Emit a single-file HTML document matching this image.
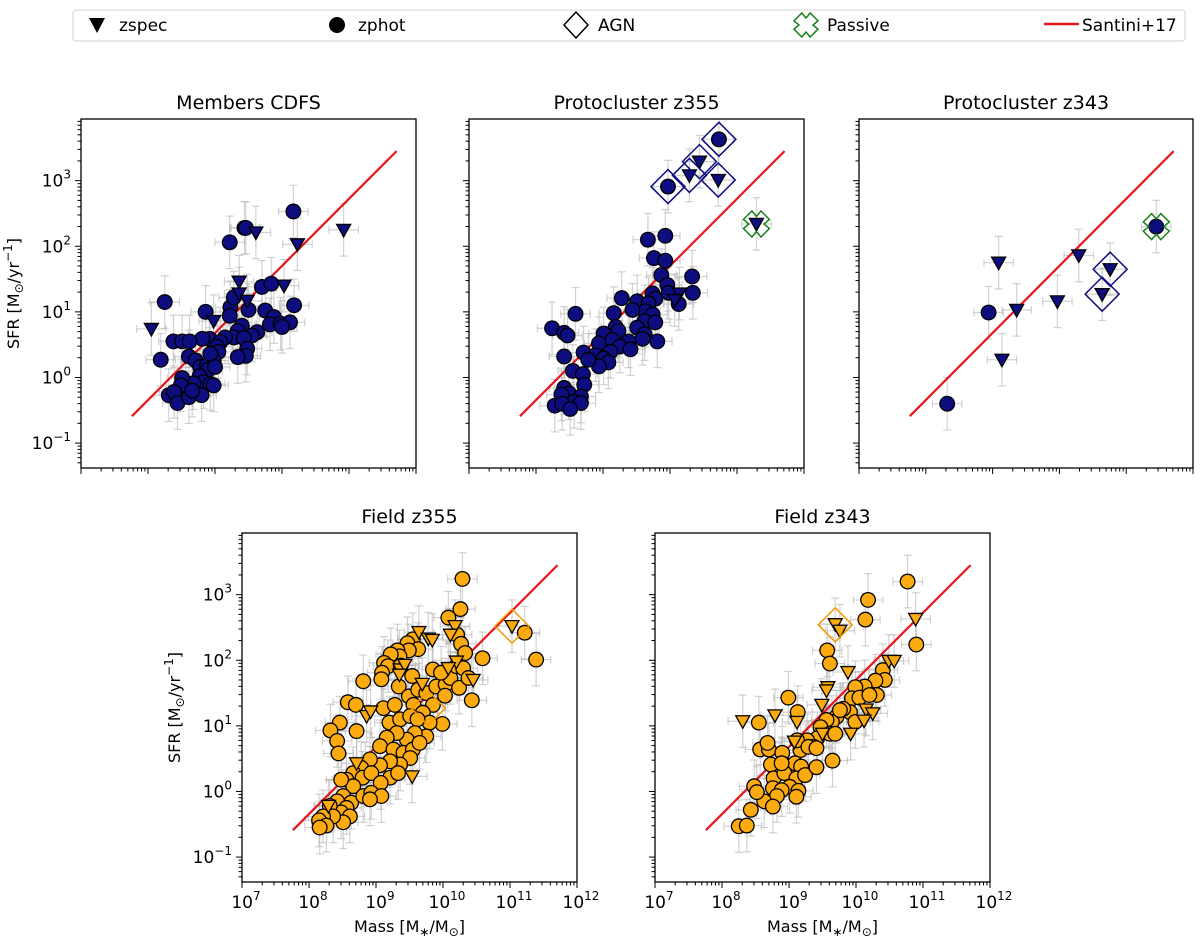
<!DOCTYPE html>
<html><head><meta charset="utf-8">
<style>
html,body{margin:0;padding:0;background:#fff;}
svg{display:block;font-family:"DejaVu Sans","Liberation Sans",sans-serif;}
</style></head>
<body>
<svg id="fig" xmlns="http://www.w3.org/2000/svg" width="1200" height="936" viewBox="0 0 1200 936">
  <g id="legend">
    <rect x="73" y="10" width="1112" height="31" rx="3" fill="#fff" stroke="#d0d0d0" stroke-width="1"/>
    <g>
      <path d="M89,18 L105,18 L97,33 Z" fill="#000"/>
      <text x="119" y="31" font-size="17">zspec</text>
    </g>
    <g>
      <circle cx="337" cy="25" r="8" fill="#000"/>
      <text x="358" y="31" font-size="17">zphot</text>
    </g>
    <g>
      <path d="M576,12 L588,25 L576,38 L564,25 Z" fill="none" stroke="#000" stroke-width="1.5"/>
      <text x="598" y="31" font-size="17">AGN</text>
    </g>
    <g>
      <path id="legX" fill="none" stroke="#1a7f1a" stroke-width="1.5"/>
      <text x="827" y="31" font-size="17">Passive</text>
    </g>
    <g>
      <line x1="1044" y1="24" x2="1079" y2="24" stroke="#e8141b" stroke-width="2.5"/>
      <text x="1082" y="31" font-size="17">Santini+17</text>
    </g>
  </g>
</svg>
<script>
// ---------- data (log10 Mass, log10 SFR) ----------
const cdfsCircM = [10.17,9.44,9.46,9.22,8.25,8.19,8.86,8.92,8.81,8.38,8.51,8.62,9.23,9.22,9.28,9.70,9.84,10.18,9.75,9.88,9.82,9.98,10.12,10.0,9.50,9.40,9.34,9.28,9.63,9.55,9.43,9.48,9.46,9.34,9.15,9.08,9.03,9.05,8.98,8.61,8.71,8.78,8.88,8.93,8.89,9.0,8.77,8.83,8.93,8.98,8.68,8.51,8.49,8.31,8.39,8.44,8.61,8.80,8.66];
const cdfsCircS = [2.53,2.28,2.28,2.06,1.15,0.27,1.0,0.59,0.59,0.55,0.55,0.55,1.07,0.94,1.22,1.38,1.43,1.10,1.02,0.92,0.81,0.82,0.84,0.77,1.03,0.79,0.71,0.61,0.69,0.64,0.60,0.44,0.33,0.31,0.61,0.54,0.47,0.39,0.26,0.32,0.26,0.16,0.18,0.36,0.11,0.16,0.02,-0.07,-0.10,-0.12,-0.09,-0.01,-0.12,-0.27,-0.22,-0.39,-0.30,-0.27,-0.20];
const cdfsTriM = [10.92,10.23,9.61,9.36,9.36,10.03,8.98,8.05,9.48];
const cdfsTriS = [2.25,2.03,2.21,1.46,1.28,1.40,0.86,0.74,1.17];

const z355CircM = [10.73,9.97,9.67,9.93,9.76,9.93,9.87,9.96,9.98,10.33,10.34,10.13,9.28,9.51,9.74,9.78,9.68,9.63,9.74,9.44,9.16,8.59,9.62,9.78,9.51,9.19,9.23,9.01,8.24,8.42,8.47,9.62,9.59,9.81,8.94,9.14,9.38,9.25,9.41,9.11,8.71,8.89,9.01,9.08,8.94,8.78,8.42,8.55,8.70,8.72,8.42,8.49,8.67,8.38,8.57,8.67,8.28,8.39,8.51];
const z355CircS = [3.63,2.91,2.10,2.16,1.82,1.78,1.56,1.41,1.29,1.54,1.29,1.12,1.21,1.16,1.28,1.20,1.13,1.01,0.96,1.03,0.98,0.97,0.86,0.84,0.76,0.77,0.71,0.67,0.75,0.68,0.64,0.66,0.59,0.55,0.52,0.57,0.55,0.47,0.43,0.39,0.38,0.34,0.29,0.23,0.17,0.27,0.32,0.10,0.05,-0.11,-0.16,-0.24,-0.29,-0.26,-0.37,-0.39,-0.43,-0.40,-0.48];
const z355TriM = [10.44,10.29,10.72,11.29,10.14,10.07];
const z355TriS = [3.29,3.08,3.01,2.34,1.28,1.18];
const z355AgnM = [10.73,10.44,10.29,9.97,10.72];
const z355AgnS = [3.63,3.29,3.08,2.91,3.01];
const z355PassM = [11.29];
const z355PassS = [2.34];

const z343CircM = [8.94,8.32,11.45];
const z343CircS = [0.99,-0.40,2.30];
const z343TriM = [9.09,9.36,9.14,9.97,10.29,10.76,10.64];
const z343TriS = [1.75,1.03,0.27,1.16,1.86,1.65,1.27];
const z343AgnM = [10.76,10.64];
const z343AgnS = [1.65,1.27];
const z343PassM = [11.45];
const z343PassS = [2.30];

const f355CircM = [10.29,10.26,10.08,10.21,10.27,10.33,10.59,11.39,11.22,9.55,9.47,9.63,9.49,9.32,9.35,9.22,9.12,9.18,9.37,9.09,9.08,9.34,9.54,8.81,8.58,8.70,8.46,8.32,8.42,8.44,8.71,9.11,9.28,9.49,9.63,9.56,9.75,9.90,10.04,10.11,10.20,10.30,10.24,10.38,10.43,9.99,10.03,9.85,9.70,9.80,9.20,9.36,9.51,9.62,9.75,9.58,9.46,9.31,9.16,9.06,9.26,9.41,9.55,9.65,9.51,9.36,9.21,9.06,8.91,8.78,8.66,8.56,8.80,8.93,9.21,9.33,9.07,8.66,8.51,8.63,8.81,8.93,9.08,8.91,8.42,8.56,8.48,8.61,8.51,8.31,8.36,8.21,8.15,8.26,8.16,8.48,9.85,9.97];
const f355CircS = [3.24,2.78,2.65,2.39,2.25,2.11,2.03,2.01,2.42,2.32,2.26,2.17,2.15,2.15,2.06,2.09,1.96,1.91,1.92,1.81,1.71,1.60,1.76,1.68,1.36,1.32,1.05,0.93,0.77,0.58,0.92,1.27,1.32,1.45,1.55,1.32,1.50,1.60,1.63,1.73,1.91,1.88,1.58,1.73,1.39,1.03,1.46,1.32,1.20,1.05,1.05,1.10,1.15,1.10,0.84,0.89,0.79,0.89,0.82,0.69,0.64,0.59,0.64,0.74,0.51,0.41,0.46,0.40,0.49,0.36,0.28,0.18,0.21,0.28,0.21,0.28,0.13,0.08,-0.07,-0.17,-0.07,-0.02,-0.07,-0.12,-0.15,-0.25,-0.32,-0.38,-0.47,-0.22,-0.38,-0.38,-0.44,-0.52,-0.55,0.18,1.86,1.81];
const f355TriM = [9.64,9.78,9.84,10.18,10.11,10.20,10.08,9.36,9.43,9.35,9.69,9.54,8.86,8.92,10.45,8.71,8.29,11.03];
const f355TriS = [2.43,2.33,2.31,2.52,2.39,1.98,1.88,1.86,1.93,1.78,1.64,0.23,1.15,1.22,1.70,0.43,-0.22,2.52];
const f355AgnM = [11.03,9.78];
const f355AgnS = [2.52,1.27];

const f343CircM = [10.77,10.18,10.14,10.90,9.57,9.61,8.99,10.40,10.43,10.29,10.31,10.13,9.99,9.94,10.05,10.20,9.91,9.99,9.81,9.71,9.64,9.56,9.47,9.61,9.69,9.42,9.27,9.37,9.17,9.12,9.13,8.55,8.57,8.70,8.68,8.90,8.93,9.09,9.18,8.73,8.77,8.93,9.11,9.24,9.01,9.14,9.11,8.76,8.89,8.82,8.63,8.76,8.48,8.52,8.43,8.25,8.37,9.41,9.65,9.29,9.76,9.41,8.89];
const f343CircS = [3.20,2.92,2.62,2.24,2.15,1.95,1.43,1.85,1.70,1.69,1.47,1.60,1.59,1.42,1.43,1.47,1.21,1.06,1.26,1.14,1.06,1.09,0.98,0.88,0.88,0.81,0.78,0.68,0.63,0.78,1.21,1.05,0.64,0.64,0.74,0.59,0.41,0.43,0.38,0.41,0.20,0.28,0.20,0.25,0.07,0.01,-0.08,0.05,0.02,-0.07,-0.15,-0.23,0.08,-0.01,-0.28,-0.53,-0.52,0.37,0.47,0.68,1.24,0.66,0.43];
const f343TriM = [10.89,10.49,10.57,9.88,9.58,9.56,9.49,8.79,9.12,8.31,10.15,10.25,10.12,9.92,9.50,9.08,9.69,9.76];
const f343TriS = [2.63,1.99,1.99,1.82,1.59,1.54,1.32,1.16,1.06,1.07,1.25,1.19,1.08,0.88,0.88,0.76,2.55,2.45];
const f343AgnM = [9.69];
const f343AgnS = [2.54];

const santiniM = [7.76, 11.71];
const santiniS = [-0.59, 3.45];

const xTickExp = [7,8,9,10,11,12];
const yTickExp = [-1,0,1,2,3];

// ---------- drawing ----------
const NS = "http://www.w3.org/2000/svg";
const svg = document.getElementById('fig');
const XMIN = 7, XMAX = 12, YMIN = -1.38, YMAX = 3.94;
const ERRX = 0.22, ERRY = 0.4;

function mk(tag, attrs, parent){
  const e = document.createElementNS(NS, tag);
  for (const k in attrs) e.setAttribute(k, attrs[k]);
  (parent || svg).appendChild(e);
  return e;
}
function xPath(cx, cy, s){
  const a = s*0.35, b = s;
  const pts = [[-a,-b],[0,-b+a*1.2],[a,-b],[b,-a],[b-a*1.2,0],[b,a],[a,b],[0,b-a*1.2],[-a,b],[-b,a],[-b+a*1.2,0],[-b,-a]];
  return 'M' + pts.map(p => (cx+p[0]).toFixed(1)+','+(cy+p[1]).toFixed(1)).join(' L') + ' Z';
}
document.getElementById('legX').setAttribute('d', xPath(806, 25, 12));

const panels = [
  {name:'members-cdfs', title:'Members CDFS', L:81, T:119, W:335, H:349, ylab:true, xlab:false,
   circ:[cdfsCircM,cdfsCircS], tri:[cdfsTriM,cdfsTriS], agn:null, pass:null, fill:'#0d0d80', agnCol:'#0d0d80'},
  {name:'protocluster-z355', title:'Protocluster z355', L:469, T:119, W:335, H:349, ylab:false, xlab:false,
   circ:[z355CircM,z355CircS], tri:[z355TriM,z355TriS], agn:[z355AgnM,z355AgnS], pass:[z355PassM,z355PassS], fill:'#0d0d80', agnCol:'#0d0d80'},
  {name:'protocluster-z343', title:'Protocluster z343', L:859, T:119, W:334, H:349, ylab:false, xlab:false,
   circ:[z343CircM,z343CircS], tri:[z343TriM,z343TriS], agn:[z343AgnM,z343AgnS], pass:[z343PassM,z343PassS], fill:'#0d0d80', agnCol:'#0d0d80'},
  {name:'field-z355', title:'Field z355', L:242, T:533, W:335, H:349, ylab:true, xlab:true,
   circ:[f355CircM,f355CircS], tri:[f355TriM,f355TriS], agn:[f355AgnM,f355AgnS], pass:null, fill:'#fbaa0f', agnCol:'#f59a00'},
  {name:'field-z343', title:'Field z343', L:655, T:533, W:335, H:349, ylab:false, xlab:true,
   circ:[f343CircM,f343CircS], tri:[f343TriM,f343TriS], agn:[f343AgnM,f343AgnS], pass:null, fill:'#fbaa0f', agnCol:'#f59a00'}
];

panels.forEach(p => {
  const xs = v => p.L + (v - XMIN) / (XMAX - XMIN) * p.W;
  const ys = v => p.T + (YMAX - v) / (YMAX - YMIN) * p.H;
  const g = mk('g', {});
  
  

  const title = mk('text', {x: p.L + p.W/2, y: p.T - 10, 'font-size': 19, 'text-anchor': 'middle'}, g);
  title.textContent = p.title;
  
  

  const clipId = 'clip-' + p.name;
  const cp = mk('clipPath', {id: clipId}, g);
  mk('rect', {x: p.L, y: p.T, width: p.W, height: p.H}, cp);
  const plot = mk('g', {'clip-path': 'url(#' + clipId + ')'}, g);

  // error bars
  const eg = mk('g', {stroke: '#b4b4b4', 'stroke-width': 1.2, 'stroke-opacity': 0.6}, plot);
  
  
  [p.circ, p.tri].forEach(set => {
    set[0].forEach((m, i) => {
      const s = set[1][i];
      const x0 = xs(m - ERRX), x1 = xs(m + ERRX), y0 = ys(s - ERRY), y1 = ys(s + ERRY), cx = xs(m), cy = ys(s);
      mk('line', {x1: x0, x2: x1, y1: cy, y2: cy}, eg);
      mk('line', {x1: cx, x2: cx, y1: y0, y2: y1}, eg);
      mk('line', {x1: cx - 4, x2: cx + 4, y1: y0, y2: y0}, eg);
      mk('line', {x1: cx - 4, x2: cx + 4, y1: y1, y2: y1}, eg);
      mk('line', {x1: x0, x2: x0, y1: cy - 4, y2: cy + 4}, eg);
      mk('line', {x1: x1, x2: x1, y1: cy - 4, y2: cy + 4}, eg);
    });
  });

  // santini line
  const ln = mk('line', {x1: xs(santiniM[0]), y1: ys(santiniS[0]), x2: xs(santiniM[1]), y2: ys(santiniS[1]), stroke: '#e8141b', 'stroke-width': 2.2}, plot);
  
  

  // circles
  p.circ[0].forEach((m, i) => {
    const c = mk('circle', {cx: xs(m), cy: ys(p.circ[1][i]), r: 7.3, fill: p.fill, stroke: '#000', 'stroke-width': 1.3}, plot);
    
    
  });
  // triangles
  p.tri[0].forEach((m, i) => {
    const cx = xs(m), cy = ys(p.tri[1][i]);
    const t = mk('path', {d: `M${cx-7},${cy-5.5} L${cx+7},${cy-5.5} L${cx},${cy+7} Z`, fill: p.fill, stroke: '#000', 'stroke-width': 1.3}, plot);
    
    
  });
  // AGN
  if (p.agn) p.agn[0].forEach((m, i) => {
    const cx = xs(m), cy = ys(p.agn[1][i]), r = 17;
    const d = mk('path', {d: `M${cx},${cy-r} L${cx+r},${cy} L${cx},${cy+r} L${cx-r},${cy} Z`, fill: 'none', stroke: p.agnCol, 'stroke-width': 1.5}, plot);
    
    
  });
  // passive
  if (p.pass) p.pass[0].forEach((m, i) => {
    const x = mk('path', {d: xPath(xs(m), ys(p.pass[1][i]), 13), fill: 'none', stroke: '#1a7f1a', 'stroke-width': 1.5}, plot);
    
    
  });

  // frame
  mk('rect', {x: p.L, y: p.T, width: p.W, height: p.H, fill: 'none', stroke: '#000', 'stroke-width': 1.3}, g);

  // ticks
  const tg = mk('g', {stroke: '#000', 'stroke-width': 1}, g);
  const B = p.T + p.H;
  for (let e = XMIN; e <= XMAX; e++) {
    mk('line', {x1: xs(e), x2: xs(e), y1: B, y2: B + 6}, tg);
    if (e < XMAX) for (let k = 2; k <= 9; k++) {
      const v = e + Math.log10(k);
      mk('line', {x1: xs(v), x2: xs(v), y1: B, y2: B + 3.5}, tg);
    }
  }
  for (let e = -2; e <= 4; e++) {
    if (e >= YMIN && e <= YMAX) mk('line', {x1: p.L - 6, x2: p.L, y1: ys(e), y2: ys(e)}, tg);
    for (let k = 2; k <= 9; k++) {
      const v = e + Math.log10(k);
      if (v >= YMIN && v <= YMAX) mk('line', {x1: p.L - 3.5, x2: p.L, y1: ys(v), y2: ys(v)}, tg);
    }
  }
  if (p.ylab) {
    yTickExp.forEach(e => {
      const t = mk('text', {x: p.L - 10, y: ys(e) + 6, 'font-size': 17, 'text-anchor': 'end'}, g);
      
      
      t.appendChild(document.createTextNode('10'));
      const sp = mk('tspan', {dy: -8, 'font-size': 12}, t);
      sp.textContent = e < 0 ? '\u2212' + (-e) : String(e);
    });
    const yl = mk('text', {x: 0, y: 0, 'font-size': 16, 'text-anchor': 'middle', transform: `translate(${p.L - 62},${p.T + p.H/2}) rotate(-90)`}, g);
    
    
    yl.appendChild(document.createTextNode('SFR [M'));
    const s1 = mk('tspan', {dy: 4, 'font-size': 12}, yl); s1.textContent = '\u2299';
    const s2 = mk('tspan', {dy: -4}, yl); s2.textContent = '/yr';
    const s3 = mk('tspan', {dy: -7, 'font-size': 12}, yl); s3.textContent = '\u22121';
    const s4 = mk('tspan', {dy: 7}, yl); s4.textContent = ']';
  }
  if (p.xlab) {
    xTickExp.forEach(e => {
      const t = mk('text', {x: xs(e) + 4, y: B + 26, 'font-size': 17, 'text-anchor': 'middle'}, g);
      
      
      t.appendChild(document.createTextNode('10'));
      const sp = mk('tspan', {dy: -8, 'font-size': 12}, t);
      sp.textContent = String(e);
    });
    const xl = mk('text', {x: p.L + p.W/2, y: B + 50, 'font-size': 16, 'text-anchor': 'middle'}, g);
    
    
    xl.appendChild(document.createTextNode('Mass [M'));
    const a1 = mk('tspan', {dy: 4, 'font-size': 12}, xl); a1.textContent = '\u2217';
    const a2 = mk('tspan', {dy: -4}, xl); a2.textContent = '/M';
    const a3 = mk('tspan', {dy: 4, 'font-size': 12}, xl); a3.textContent = '\u2299';
    const a4 = mk('tspan', {dy: -4}, xl); a4.textContent = ']';
  }
});
</script>
</body></html>
